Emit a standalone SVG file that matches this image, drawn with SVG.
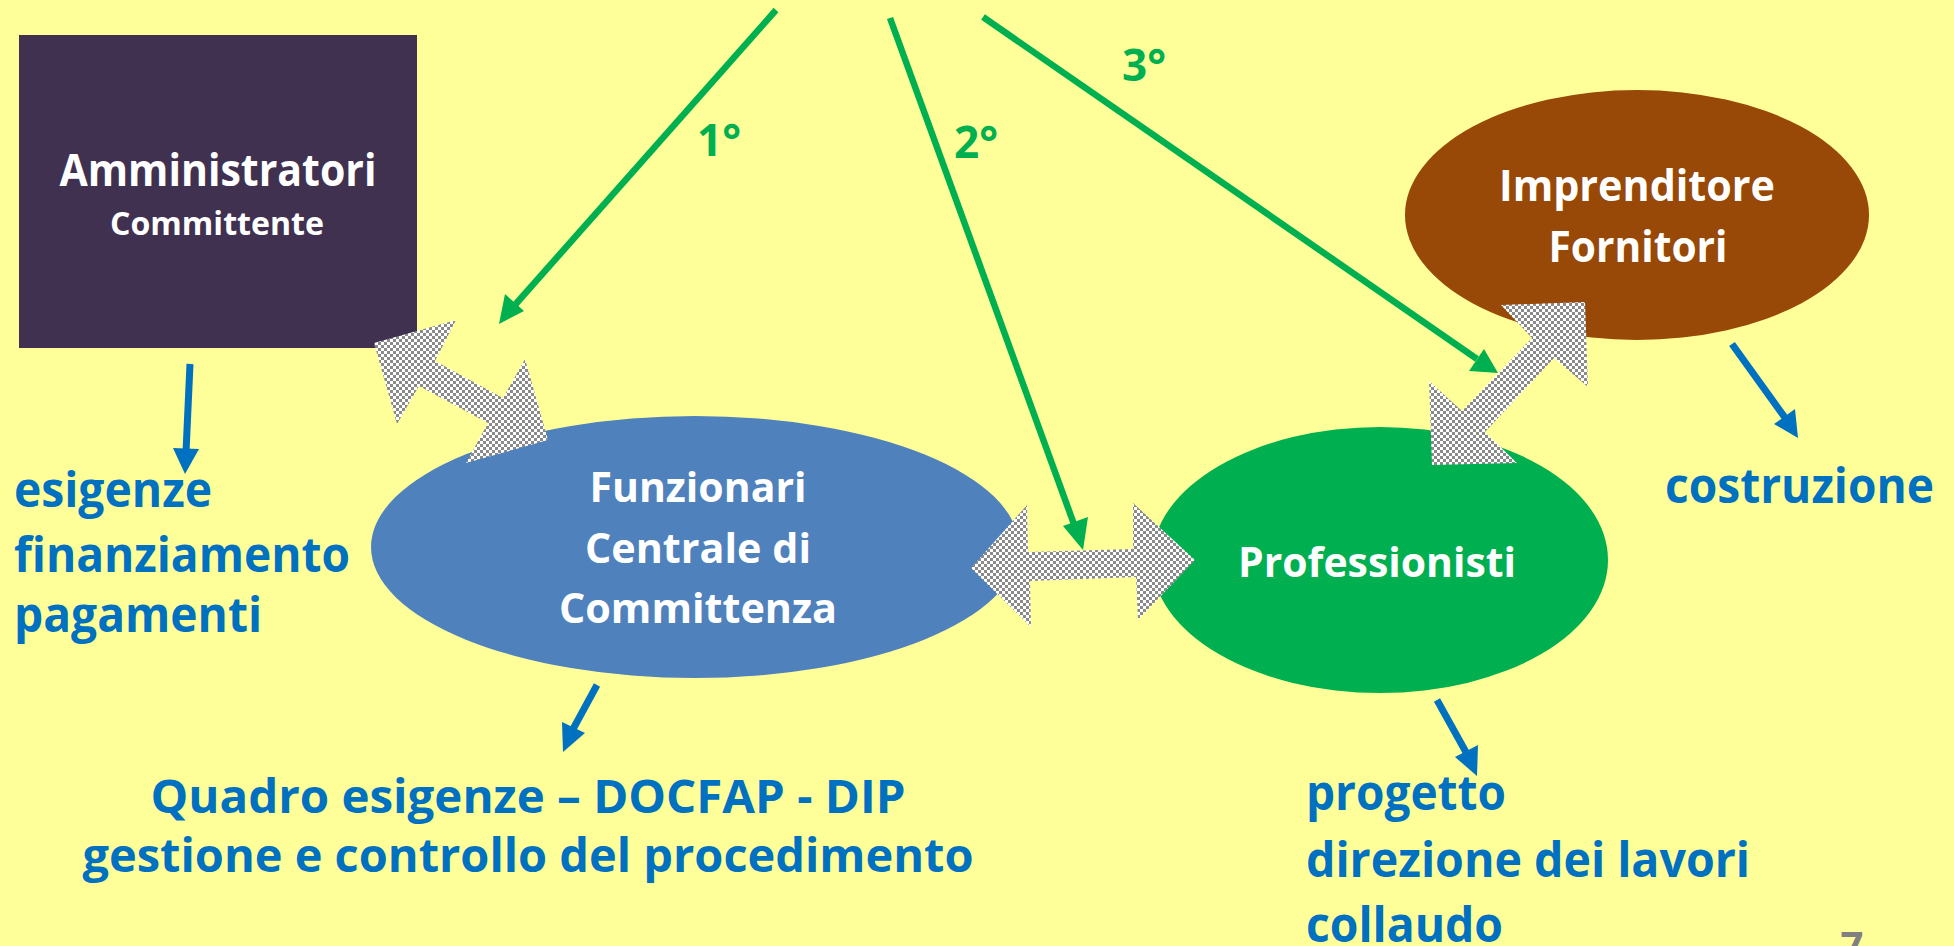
<svg xmlns="http://www.w3.org/2000/svg" width="1954" height="946" viewBox="0 0 1954 946">
<defs>
<pattern id="chk" width="6" height="6" patternUnits="userSpaceOnUse">
<rect width="6" height="6" fill="#ffffff"/>
<rect x="0" y="0" width="3" height="3" fill="#8a8a8a"/>
<rect x="3" y="3" width="3" height="3" fill="#8a8a8a"/>
</pattern>
<style>
.w{font-family:"Open Sans","Noto Sans",sans-serif;font-weight:bold;fill:#ffffff;text-anchor:middle}
.b{font-family:"Open Sans","Noto Sans",sans-serif;font-weight:bold;fill:#0070C0}
.g{font-family:"Open Sans","Noto Sans",sans-serif;font-weight:bold;fill:#00B050;text-anchor:middle}
.gl{stroke:#00B050;stroke-width:6.5;fill:none}
.bl{stroke:#0070C0;stroke-width:7;fill:none}
.blk{fill:url(#chk)}
</style>
</defs>
<rect width="1954" height="946" fill="#FFFF99"/>

<g id="amministratori">
<rect x="19" y="35" width="398" height="313" fill="#403151"/>
<text class="w" x="218" y="186" font-size="45" textLength="317" lengthAdjust="spacingAndGlyphs">Amministratori</text>
<text class="w" x="217" y="235" font-size="32" textLength="214" lengthAdjust="spacingAndGlyphs">Committente</text>
</g>

<g id="funzionari">
<ellipse cx="695" cy="547" rx="324" ry="131" fill="#4F81BD"/>
<text class="w" x="698" y="502" font-size="42" textLength="217" lengthAdjust="spacingAndGlyphs">Funzionari</text>
<text class="w" x="698" y="563" font-size="42" textLength="226" lengthAdjust="spacingAndGlyphs">Centrale di</text>
<text class="w" x="698" y="623" font-size="42" textLength="278" lengthAdjust="spacingAndGlyphs">Committenza</text>
</g>

<g id="professionisti">
<ellipse cx="1380" cy="560" rx="228" ry="133" fill="#00B050"/>
<text class="w" x="1377" y="577" font-size="42" textLength="278" lengthAdjust="spacingAndGlyphs">Professionisti</text>
</g>

<g id="imprenditore">
<ellipse cx="1637" cy="215" rx="232" ry="125" fill="#984807"/>
<text class="w" x="1637" y="201" font-size="43" textLength="276" lengthAdjust="spacingAndGlyphs">Imprenditore</text>
<text class="w" x="1638" y="262" font-size="43" textLength="179" lengthAdjust="spacingAndGlyphs">Fornitori</text>
</g>

<g id="connectors">
<polygon class="blk" points="374,343 456,320 435,361 503,398 525,359 548,440 466,463 488,423 419,386 397,424"/>
<polygon class="blk" points="971,568 1027,505 1028,552 1133,549 1133,503 1195,560 1138,620 1136,577 1030,581 1031,627"/>
<polygon class="blk" points="1429,381 1462,411 1532,338 1501,305 1585,302 1588,387 1554,358 1485,432 1517,463 1432,465"/>

<line class="gl" x1="776" y1="10" x2="514" y2="306"/>
<polygon fill="#00B050" points="499,324 505,294 524,311"/>
<line class="gl" x1="890" y1="18" x2="1075" y2="527"/>
<polygon fill="#00B050" points="1083,550 1063,526 1088,517"/>
<line class="gl" x1="983" y1="17" x2="1477" y2="359"/>
<polygon fill="#00B050" points="1498,373 1469,371 1484,349"/>

<line class="bl" x1="190" y1="364" x2="186" y2="452"/>
<polygon fill="#0070C0" points="185,474 173,448 199,449"/>
<line class="bl" x1="597" y1="685" x2="572" y2="731"/>
<polygon fill="#0070C0" points="563,752 562,722 585,733"/>
<line class="bl" x1="1437" y1="700" x2="1467" y2="754"/>
<polygon fill="#0070C0" points="1477,776 1455,757 1478,745"/>
<line class="bl" x1="1732" y1="344" x2="1786" y2="419"/>
<polygon fill="#0070C0" points="1798,438 1774,424 1795,409"/>
</g>

<g id="labels">
<text class="g" x="719" y="156" font-size="44">1°</text>
<text class="g" x="976" y="158" font-size="44">2°</text>
<text class="g" x="1144" y="81" font-size="44">3°</text>

<text class="b" x="14" y="507" font-size="48" textLength="198" lengthAdjust="spacingAndGlyphs">esigenze</text>
<text class="b" x="14" y="572" font-size="48" textLength="336" lengthAdjust="spacingAndGlyphs">finanziamento</text>
<text class="b" x="14" y="632" font-size="48" textLength="248" lengthAdjust="spacingAndGlyphs">pagamenti</text>

<text class="b" x="528" y="813" font-size="47" text-anchor="middle" textLength="755" lengthAdjust="spacingAndGlyphs">Quadro esigenze – DOCFAP - DIP</text>
<text class="b" x="528" y="872" font-size="47" text-anchor="middle" textLength="891" lengthAdjust="spacingAndGlyphs">gestione e controllo del procedimento</text>

<text class="b" x="1306" y="810" font-size="48" textLength="200" lengthAdjust="spacingAndGlyphs">progetto</text>
<text class="b" x="1306" y="877" font-size="48" textLength="444" lengthAdjust="spacingAndGlyphs">direzione dei lavori</text>
<text class="b" x="1306" y="942" font-size="48" textLength="197" lengthAdjust="spacingAndGlyphs">collaudo</text>

<text class="b" x="1665" y="503" font-size="48" textLength="269" lengthAdjust="spacingAndGlyphs">costruzione</text>

<text x="1852" y="960" font-size="40" font-family="Open Sans, sans-serif" font-weight="bold" fill="#808080" text-anchor="middle">7</text>
</g>
</svg>
